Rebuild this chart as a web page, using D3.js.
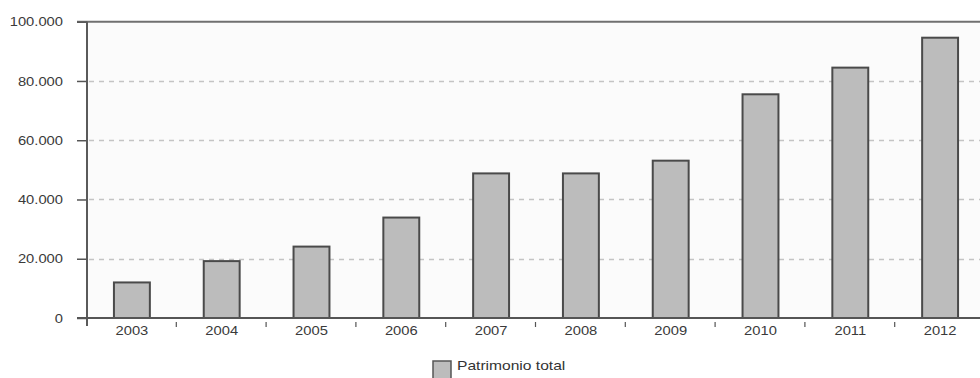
<!DOCTYPE html>
<html>
<head>
<meta charset="utf-8">
<script src="https://cdn.jsdelivr.net/npm/d3@7"></script>
<style>
  body { margin: 0; background: #fff; }
  svg { display: block; font-family: "Liberation Sans", Arial, sans-serif; }
</style>
</head>
<body>
<svg id="chart" width="980" height="378"></svg>
<script>
const years = ["2003","2004","2005","2006","2007","2008","2009","2010","2011","2012"];
const patrimonio = [12000, 19200, 24100, 33900, 48800, 48800, 53100, 75500, 84500, 94600];
const yTicks = [0, 20000, 40000, 60000, 80000, 100000];
const seriesName = "Patrimonio total";

const svg = d3.select("#chart");
const x0 = 87, xBand = 89.8;
const x = d3.scaleBand().domain(years).range([x0, x0 + xBand * years.length]).paddingInner(0.6).paddingOuter(0.3);
const y = d3.scaleLinear().domain([0, 100000]).range([318, 21.7]);
const fmt = d => d3.format(",")(d).replace(/,/g, ".");
const SX = 1.18;

// plot background
svg.append("rect").attr("x", x0).attr("y", y(100000)).attr("width", 980 - x0).attr("height", y(0) - y(100000)).attr("fill", "#fbfbfb");

// gridlines
svg.append("g").selectAll("line").data(yTicks.filter(d => d > 0 && d < 100000)).join("line")
  .attr("x1", x0 + 2).attr("x2", 980).attr("y1", d => Math.round(y(d)) + 0.5).attr("y2", d => Math.round(y(d)) + 0.5)
  .attr("stroke", "#c4c4c4").attr("stroke-width", 1.3).attr("stroke-dasharray", "5,5");

// bars
svg.append("g").selectAll("rect").data(years).join("rect")
  .attr("x", d => x(d)).attr("width", x.bandwidth())
  .attr("y", (d, i) => y(patrimonio[i])).attr("height", (d, i) => y(0) - y(patrimonio[i]))
  .attr("fill", "#bcbcbc").attr("stroke", "#4a4a4a").attr("stroke-width", 2);

// top border
svg.append("line").attr("x1", 77).attr("x2", 980).attr("y1", y(100000)).attr("y2", y(100000))
  .attr("stroke", "#707070").attr("stroke-width", 2);

// y axis
const yAxis = svg.append("g").attr("transform", `translate(${x0},0)`)
  .call(d3.axisLeft(y).tickValues(yTicks).tickFormat(fmt).tickSize(10));
yAxis.select(".domain").remove();
yAxis.selectAll(".tick line").attr("stroke", "#555").attr("stroke-width", 1.5);
yAxis.selectAll(".tick text")
  .attr("x", 0).attr("dy", null).attr("y", 0)
  .attr("dominant-baseline", "central")
  .attr("transform", `translate(-24,0) scale(${SX},1)`)
  .attr("fill", "#3a3a3a").attr("font-size", 12.5);
svg.append("line").attr("x1", x0).attr("x2", x0).attr("y1", y(100000)).attr("y2", 326)
  .attr("stroke", "#5a5a5a").attr("stroke-width", 2);

// x axis baseline
svg.append("line").attr("x1", 77).attr("x2", 980).attr("y1", y(0)).attr("y2", y(0))
  .attr("stroke", "#555").attr("stroke-width", 2);

// x category separators (small ticks)
svg.append("g").selectAll("line").data(years.slice(1)).join("line")
  .attr("x1", d => x(d) - x.step() * 0.3 - 0.5).attr("x2", d => x(d) - x.step() * 0.3 - 0.5)
  .attr("y1", 322).attr("y2", 327).attr("stroke", "#555").attr("stroke-width", 1.2);

// x labels
svg.append("g").selectAll("text").data(years).join("text")
  .attr("transform", d => `translate(${x(d) + x.bandwidth() / 2},335) scale(${SX},1)`)
  .attr("text-anchor", "middle").attr("fill", "#3a3a3a").attr("font-size", 12.5).text(d => d);

// legend
const lg = svg.append("g").attr("transform", "translate(433,361)");
lg.append("rect").attr("x", 0).attr("y", 0).attr("width", 18).attr("height", 20)
  .attr("fill", "#bcbcbc").attr("stroke", "#555").attr("stroke-width", 1.5);
lg.append("text").attr("transform", `translate(24,9) scale(${SX + 0.02},1)`)
  .attr("fill", "#333").attr("font-size", 13).text(seriesName);
</script>
</body>
</html>
